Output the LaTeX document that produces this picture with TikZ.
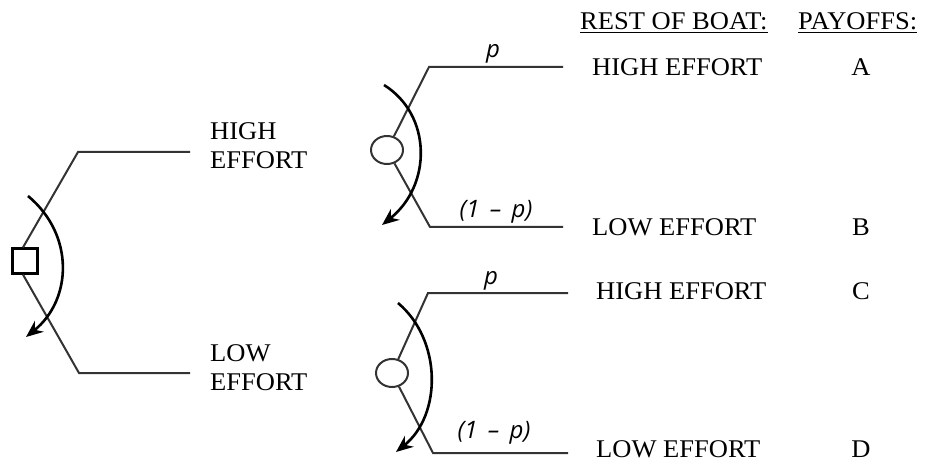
\documentclass[tikz,border=0pt]{standalone}
\usepackage{fontspec}
\setmainfont{Liberation Serif}[FakeStretch=1.04]
\newfontfamily\plabelfont{Open Sans}
\usetikzlibrary{arrows.meta,shapes.geometric}
\begin{document}
\begin{tikzpicture}[x=1pt,y=-1pt,
  branch/.style={draw=black!80,line width=2pt},
  choice/.style={draw=black,line width=2.6pt,-{Stealth[length=17pt,width=14pt]}},
  lbl/.style={anchor=base west,inner sep=0pt,font=\fontsize{25.5}{30}\selectfont},
  pay/.style={anchor=base,inner sep=0pt,font=\fontsize{25.5}{30}\selectfont},
  prob/.style={anchor=base,inner sep=0pt,font=\plabelfont\itshape\fontsize{24}{28}\selectfont},
  sq/.style={draw=black,line width=2.2pt,minimum width=25pt,minimum height=25pt,inner sep=0pt},
  ch/.style={draw=black!80,line width=2pt,ellipse,minimum width=32pt,minimum height=28pt,inner sep=0pt}]
\useasboundingbox (0,0) rectangle (925,462);
% left decision node
\node[sq] (S) at (25,261) {};
\coordinate (Lu) at (78,152); \coordinate (LuE) at (190,152);
\coordinate (Ld) at (79,373); \coordinate (LdE) at (190,373);
\draw[branch] ([xshift=-2pt]S.north) -- (Lu) -- (LuE);
\draw[branch] ([xshift=-2pt]S.south) -- (Ld) -- (LdE);
\coordinate (La) at (28,196); \coordinate (Lb) at (26,337);
\draw[choice] (La) .. controls (75,235) and (72,300) .. (Lb);
\node[lbl] (hi1) at (210,140) {HIGH};
\node[lbl] (hi2) at (210,169) {EFFORT};
\node[lbl] (lo1) at (210,361) {LOW};
\node[lbl] (lo2) at (210,390) {EFFORT};
% upper chance node
\node[ch] (C1) at (387,150) {};
\coordinate (U1) at (429,67); \coordinate (U1E) at (563,67);
\coordinate (D1) at (430,227); \coordinate (D1E) at (563,227);
\draw[branch] (C1) -- (U1) -- (U1E);
\draw[branch] (C1) -- (D1) -- (D1E);
\coordinate (A1) at (384,85); \coordinate (B1) at (382,225);
\draw[choice] (A1) .. controls (432,115) and (432,185) .. (B1);
\node[prob] (p1) at (493,58) {p};
\node[prob] (q1) at (496,218) {(1\hspace{4pt} – \hspace{4pt}p)};
% lower chance node
\node[ch] (C2) at (392,373) {};
\coordinate (U2) at (428,293); \coordinate (U2E) at (568,293);
\coordinate (D2) at (433,453); \coordinate (D2E) at (568,453);
\draw[branch] (C2) -- (U2) -- (U2E);
\draw[branch] (C2) -- (D2) -- (D2E);
\coordinate (A2) at (398,303); \coordinate (B2) at (396,452);
\draw[choice] (A2) .. controls (442,340) and (442,415) .. (B2);
\node[prob] (p2) at (491,284) {p};
\node[prob] (q2) at (494,438) {(1\hspace{4pt} – \hspace{4pt}p)};
% right column
\node[lbl] (rb) at (580,30) {\underline{REST OF BOAT:}};
\node[lbl] (po) at (798,30) {\underline{PAYOFFS:}};
\node[lbl] (r1) at (592,76) {HIGH EFFORT};
\node[lbl] (r2) at (592,235) {LOW EFFORT};
\node[lbl] (r3) at (596,299) {HIGH EFFORT};
\node[lbl] (r4) at (596,457) {LOW EFFORT};
\node[pay] (pa) at (861,76) {A};
\node[pay] (pb) at (861,235) {B};
\node[pay] (pc) at (861,299) {C};
\node[pay] (pd) at (861,457) {D};
\end{tikzpicture}
\end{document}
